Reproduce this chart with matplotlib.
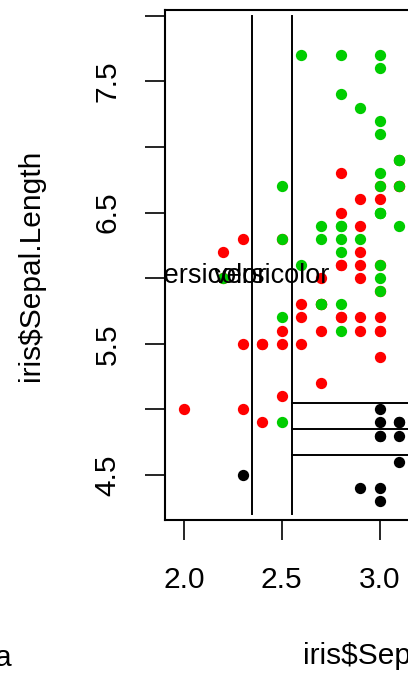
import matplotlib
matplotlib.use("Agg")
import matplotlib.pyplot as plt

plt.rcParams['font.family'] = ['Liberation Sans', 'DejaVu Sans']

# iris points visible in the crop (Sepal.Width <= 3.1), by species
setosa_w = [3.0, 3.1, 2.9, 3.1, 3.0, 3.0, 3.0, 3.1, 3.1, 3.0, 2.3, 3.0]
setosa_l = [4.9, 4.6, 4.4, 4.9, 4.8, 4.3, 5.0, 4.8, 4.9, 4.4, 4.5, 4.8]

versi_w = [3.1, 2.3, 2.8, 2.8, 2.4, 2.9, 2.7, 2.0, 3.0, 2.2, 2.9, 2.9, 3.1, 3.0, 2.7,
           2.2, 2.5, 2.8, 2.5, 2.8, 2.9, 3.0, 2.8, 3.0, 2.9, 2.6, 2.4, 2.4, 2.7, 2.7,
           3.0, 3.1, 2.3, 3.0, 2.5, 2.6, 3.0, 2.6, 2.3, 2.7, 3.0, 2.9, 2.9, 2.5, 2.8]
versi_l = [6.9, 5.5, 6.5, 5.7, 4.9, 6.6, 5.2, 5.0, 5.9, 6.0, 6.1, 5.6, 6.7, 5.6, 5.8,
           6.2, 5.6, 6.1, 6.3, 6.1, 6.4, 6.6, 6.8, 6.7, 6.0, 5.7, 5.5, 5.5, 5.8, 6.0,
           5.4, 6.7, 6.3, 5.6, 5.5, 5.5, 6.1, 5.8, 5.0, 5.6, 5.7, 5.7, 6.2, 5.1, 5.7]

virg_w = [2.7, 3.0, 2.9, 3.0, 3.0, 2.5, 2.9, 2.5, 2.7, 3.0, 2.5, 2.8, 3.0, 2.6, 2.2,
          2.8, 2.8, 2.7, 2.8, 3.0, 2.8, 3.0, 2.8, 2.8, 2.8, 2.6, 3.0, 3.1, 3.0, 3.1,
          3.1, 3.1, 2.7, 3.0, 2.5, 3.0, 3.0]
virg_l = [5.8, 7.1, 6.3, 6.5, 7.6, 4.9, 7.3, 6.7, 6.4, 6.8, 5.7, 5.8, 6.5, 7.7, 6.0,
          5.6, 7.7, 6.3, 6.2, 6.1, 6.4, 7.2, 7.4, 6.4, 6.3, 6.1, 7.7, 6.4, 6.0, 6.9,
          6.7, 6.9, 5.8, 6.7, 6.3, 6.5, 5.9]

# tree partition
v_splits = [2.35, 2.55]
v_span = [4.2, 8.0]
h_splits = [5.05, 4.85, 4.65]
h_span = [2.55, 4.5]
leaf_x = [2.127, 2.45]
leaf_y = [5.96, 5.96]
leaf_lab = ["versicolor", "versicolor"]

fig = plt.figure(figsize=(4.08, 6.75), dpi=100)
ax = fig.add_axes([165 / 408, 1 - 520 / 675, 508 / 408, 510 / 675])

ax.scatter(setosa_w, setosa_l, s=66, c='black', linewidths=0, zorder=3)
ax.scatter(versi_w, versi_l, s=66, c='#FF0000', linewidths=0, zorder=3)
ax.scatter(virg_w, virg_l, s=66, c='#00CD00', linewidths=0, zorder=3)

for x in v_splits:
    ax.plot([x, x], v_span, color='black', lw=1.4, zorder=4)
for y in h_splits:
    ax.plot(h_span, [y, y], color='black', lw=1.4, zorder=4)
for x, y, t in zip(leaf_x, leaf_y, leaf_lab):
    ax.text(x, y, t, ha='center', va='baseline', fontsize=19.5, zorder=5, clip_on=True)

ax.set_xlim(1.904, 4.496)
ax.set_ylim(4.156, 8.044)
ax.set_xticks([2.0, 2.5, 3.0, 3.5, 4.0])
ax.set_xticklabels(["2.0", "2.5", "3.0", "3.5", "4.0"])
ax.set_yticks([4.5, 5.0, 5.5, 6.0, 6.5, 7.0, 7.5, 8.0])
ax.set_yticklabels(["4.5", "", "5.5", "", "6.5", "", "7.5", ""], rotation=90, va='center')
ax.tick_params(direction='out', length=14.4, width=1.2, labelsize=21.5)
ax.tick_params(axis='x', pad=19)
ax.tick_params(axis='y', pad=17)
for sp in ax.spines.values():
    sp.set_linewidth(1.5)

ax.set_xlabel(r'iris\$Sepal.Width', fontsize=21.5, labelpad=34)
ax.xaxis.label.set_x(0.485)
ax.set_ylabel(r'iris\$Sepal.Length', fontsize=21.5, labelpad=35)

fig.text(11 / 408, 1 - 666 / 675, 'a', ha='right', va='baseline', fontsize=21.5)

fig.savefig('out.png', dpi=100)
